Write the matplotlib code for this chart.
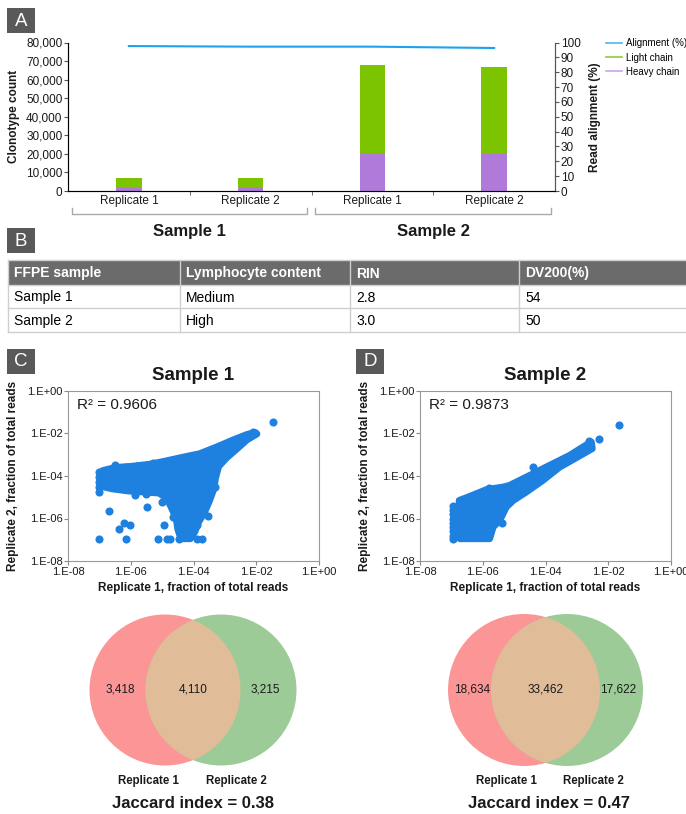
import matplotlib
matplotlib.use("Agg")
import matplotlib.pyplot as plt
import matplotlib.transforms as mtransforms
from matplotlib.patches import Circle, Rectangle
from matplotlib.lines import Line2D
import numpy as np

# ---- data ----
categories = ["Replicate 1", "Replicate 2", "Replicate 1", "Replicate 2"]
samples = ["Sample 1", "Sample 2"]
heavy = [1600, 1600, 20400, 19900]
light = [5500, 5400, 47400, 46700]
alignment = [97.6, 97.2, 97.2, 96.3]

table_cols = ["FFPE sample", "Lymphocyte content", "RIN", "DV200(%)"]
table_rows = [["Sample 1", "Medium", "2.8", "54"],
              ["Sample 2", "High", "3.0", "50"]]

# scatter clouds, log10 of fraction of total reads
s1_core_x = [-6.9, -6.5, -6.0, -5.4, -4.9, -4.44, -3.8, -3.27, -2.73, -2.3, -2.05, -1.98,
             -2.3, -2.6, -2.95, -3.2, -3.3, -3.35, -3.5, -3.65, -3.85, -3.95, -4.1, -4.4,
             -4.5, -4.55, -4.7, -4.85, -5.1, -5.6, -6.1, -6.6, -6.9]
s1_core_y = [-3.75, -3.6, -3.55, -3.45, -3.3, -3.15, -2.95, -2.64, -2.3, -2.05, -1.95, -2.02,
             -2.3, -2.7, -3.15, -3.55, -4.1, -4.6, -5.2, -5.7, -6.2, -6.6, -6.95, -6.95,
             -6.5, -6.0, -5.5, -5.05, -4.8, -4.75, -4.7, -4.6, -4.5]
s1_pts_x = [-1.48, -7.01, -7.01, -7.01, -7.01, -7.01, -7.01, -6.69, -6.72, -6.72,
            -6.51, -6.14, -6.38, -6.22, -6.03, -6.14, -5.47, -5.5, -5.85, -5.13,
            -4.83, -5.0, -4.95, -4.65, -4.67, -4.75, -4.45, -3.9, -3.74, -3.9,
            -3.53, -3.32, -6.3, -5.8, -6.0, -5.3, -2.04, -2.1]
s1_pts_y = [-1.46, -3.81, -4.05, -4.28, -4.52, -4.75, -6.95, -5.65, -4.1, -4.45,
            -3.5, -3.58, -6.48, -6.21, -6.32, -6.95, -5.46, -4.86, -4.9, -6.95,
            -6.95, -5.22, -6.32, -5.93, -5.46, -6.95, -6.95, -6.95, -6.95, -6.32,
            -5.88, -4.52, -3.9, -3.55, -4.5, -3.4, -2.0, -1.93]

s2_core_x = [-6.73, -6.75, -6.46, -5.88, -5.35, -5.14, -4.5, -3.87, -3.23, -2.81, -2.54,
             -2.51, -3.02, -3.55, -4.08, -4.61, -5.03, -5.25, -5.46, -5.67, -5.78]
s2_core_y = [-6.95, -5.15, -4.99, -4.64, -4.52, -4.44, -3.97, -3.5, -3.03, -2.64, -2.4,
             -2.71, -3.14, -3.58, -4.2, -4.75, -5.15, -5.46, -6.09, -6.4, -6.95]
s2_pts_x = [-1.67, -2.3, -2.6, -4.4, -6.94, -6.94, -6.94, -6.94, -6.94, -6.94, -6.94,
            -6.94, -6.94, -6.45, -5.8, -5.4]
s2_pts_y = [-1.62, -2.27, -2.35, -3.58, -5.4, -5.6, -5.8, -6.0, -6.2, -6.4, -6.6,
            -6.8, -6.95, -5.0, -4.55, -6.2]

r2_values = ["0.9606", "0.9873"]
venn_counts = [[3418, 4110, 3215], [18634, 33462, 17622]]
jaccard = [0.38, 0.47]

# ---- style ----
W, H = 686, 814
plt.rcParams['font.family'] = ['Liberation Sans', 'DejaVu Sans']
green = "#7DC400"
purple = "#B07ADA"
blue_line = "#1CA3EC"
dot_blue = "#1E80DF"
txt = "#1a1a1a"

fig = plt.figure(figsize=(W / 100, H / 100), dpi=100)


def px_axes(l, t, r, b):
    return fig.add_axes([l / W, 1 - b / H, (r - l) / W, (b - t) / H])


canvas = fig.add_axes([0, 0, 1, 1])
canvas.set_xlim(0, W)
canvas.set_ylim(H, 0)
canvas.axis("off")


def panel_label(x, y, letter):
    canvas.add_patch(Rectangle((x, y), 28, 25, fc="#595959", ec="none"))
    canvas.text(x + 14, y + 13, letter, color="white", fontsize=13.5,
                ha="center", va="center")


# ---- panel A ----
panel_label(7, 8, "A")
ax = px_axes(68, 42.5, 555, 191)
xpos = np.arange(len(categories))
ax.bar(xpos, heavy, width=0.21, color=purple, zorder=2)
ax.bar(xpos, light, bottom=heavy, width=0.21, color=green, zorder=2)
ax.set_xlim(-0.5, 3.5)
ax.set_ylim(0, 80000)
ax.set_yticks(range(0, 80001, 10000))
ax.set_yticklabels([f"{v:,}" for v in range(0, 80001, 10000)])
ax.set_xticks(xpos)
ax.set_xticklabels(categories)
ax.set_xticks([0.5, 1.5, 2.5], minor=True)
ax.tick_params(axis="x", which="major", length=0, pad=3, labelsize=8.5, labelcolor=txt)
ax.tick_params(axis="x", which="minor", length=3, color="#555555")
ax.tick_params(axis="y", length=3, pad=1, labelsize=8.5, labelcolor=txt, color="#555555")
ax.spines["top"].set_visible(False)
for s in ("left", "bottom", "right"):
    ax.spines[s].set_color("#555555")
ax.set_ylabel("Clonotype count", fontsize=8.5, fontweight="bold", color=txt)
ax.yaxis.set_label_coords((20 - 68) / 487, 0.5)

ax2 = ax.twinx()
ax2.plot(xpos, alignment, color=blue_line, lw=1.5)
ax2.set_ylim(0, 100)
ax2.set_yticks(range(0, 101, 10))
ax2.tick_params(axis="y", length=3, pad=1, labelsize=8.5, labelcolor=txt, color="#555555")
ax2.spines["top"].set_visible(False)
ax2.spines["right"].set_color("#555555")
ax2.set_ylabel("Read alignment (%)", fontsize=8.5, fontweight="bold", color=txt)
ax2.yaxis.set_label_coords((589 - 68) / 487, 0.5)

handles = [Line2D([], [], color="#4DB6F0", lw=1.2),
           Line2D([], [], color="#8CCB3A", lw=1.2),
           Line2D([], [], color="#CFA2E8", lw=1.2)]
fig.legend(handles, ["Alignment (%)", "Light chain", "Heavy chain"],
           loc="upper left", bbox_to_anchor=(606 / W, 1 - 38.5 / H), frameon=False,
           fontsize=7, handlelength=1.6, handletextpad=0.5, labelspacing=0.42,
           borderaxespad=0, borderpad=0)

trans = mtransforms.blended_transform_factory(ax.transData, ax.transAxes)
for (x0, x1), name, xc in zip([(-0.467, 1.467), (1.525, 3.467)], samples, [0.5, 2.5]):
    ax.plot([x0, x0, x1, x1], [-0.115, -0.155, -0.155, -0.115], transform=trans,
            clip_on=False, color="#aaaaaa", lw=1)
    ax.text(xc, -0.27, name, transform=trans, ha="center", va="center",
            fontsize=12, fontweight="bold", color=txt)

# ---- panel B: table ----
panel_label(7, 228, "B")
col_x = [8, 180, 350, 519, W]
row_y = [260, 285, 308, 332]
canvas.add_patch(Rectangle((col_x[0], row_y[0]), W - col_x[0], row_y[1] - row_y[0],
                           fc="#6b6b6b", ec="none"))
for yy in row_y:
    canvas.plot([col_x[0], W], [yy, yy], color="#cfcfcf", lw=1)
for xx in col_x[:-1]:
    canvas.plot([xx, xx], [row_y[0], row_y[-1]], color="#cfcfcf", lw=1)
for j, name in enumerate(table_cols):
    canvas.text(col_x[j] + 6, (row_y[0] + row_y[1]) / 2 + 1, name, color="white",
                fontsize=10, fontweight="bold", va="center", ha="left")
for i, row in enumerate(table_rows):
    for j, val in enumerate(row):
        canvas.text(col_x[j] + 6, (row_y[i + 1] + row_y[i + 2]) / 2 + 1, val, color="black",
                    fontsize=10, va="center", ha="left")

# ---- panels C / D: scatter ----
decade_ticks = [1e-8, 1e-6, 1e-4, 1e-2, 1]
decade_labels = ["1.E-08", "1.E-06", "1.E-04", "1.E-02", "1.E+00"]


def draw_scatter(box, core_x, core_y, pts_x, pts_y, title, r2):
    a = px_axes(*box)
    a.set_xscale("log")
    a.set_yscale("log")
    a.fill(10.0 ** np.array(core_x), 10.0 ** np.array(core_y), fc=dot_blue, ec=dot_blue,
           lw=5, joinstyle="round", zorder=2)
    a.scatter(10.0 ** np.array(pts_x), 10.0 ** np.array(pts_y), s=34, color=dot_blue,
              linewidths=0, zorder=3)
    a.set_xlim(1e-8, 1)
    a.set_ylim(1e-8, 1)
    a.set_xticks(decade_ticks)
    a.set_xticklabels(decade_labels)
    a.set_yticks(decade_ticks)
    a.set_yticklabels(decade_labels)
    a.minorticks_off()
    a.tick_params(length=3, pad=1, labelsize=8, labelcolor=txt, color="#888888")
    for s in a.spines.values():
        s.set_color("#999999")
    a.set_xlabel("Replicate 1, fraction of total reads", fontsize=8.5,
                 fontweight="bold", color=txt)
    a.xaxis.set_label_coords(0.5, -0.124)
    a.set_ylabel("Replicate 2, fraction of total reads", fontsize=8.5,
                 fontweight="bold", color=txt)
    a.yaxis.set_label_coords(-0.195, 0.5)
    a.text(0.5, 1.094, title, transform=a.transAxes, ha="center", va="center",
           fontsize=13.5, fontweight="bold", color=txt)
    a.text(0.036, 0.918, "R\u00b2 = " + r2, transform=a.transAxes, ha="left",
           va="center", fontsize=11, color=txt)
    return a


panel_label(7, 349, "C")
panel_label(356, 349, "D")
draw_scatter((68, 391, 319, 561), s1_core_x, s1_core_y, s1_pts_x, s1_pts_y,
             samples[0], r2_values[0])
draw_scatter((420, 391, 671, 561), s2_core_x, s2_core_y, s2_pts_x, s2_pts_y,
             samples[1], r2_values[1])

# ---- Venn diagrams ----
venn_red = "#FC9696"
venn_green = "#9CCB98"
venn_mix = "#E0BD98"


def draw_venn(cx1, cx2, cy, r, counts, jac, label_x, jac_x):
    c1 = Circle((cx1, cy), r, fc=venn_red, ec="none")
    c2 = Circle((cx2, cy), r, fc=venn_green, ec="none")
    canvas.add_patch(c1)
    canvas.add_patch(c2)
    lens = Circle((cx1, cy), r, fc=venn_mix, ec="none")
    canvas.add_patch(lens)
    lens.set_clip_path(c2)
    mid = (cx1 + cx2) / 2
    xs = [mid - r + 3, mid, mid + r - 3]
    for xx, v in zip(xs, counts):
        canvas.text(xx, cy, f"{v:,}", ha="center", va="center", fontsize=8.5, color=txt)
    for xx, name in zip(label_x, ["Replicate 1", "Replicate 2"]):
        canvas.text(xx, 781, name, ha="center", va="center", fontsize=8.3,
                    fontweight="bold", color=txt)
    canvas.text(jac_x, 804, f"Jaccard index = {jac:.2f}", ha="center", va="center",
                fontsize=12, fontweight="bold", color=txt)


draw_venn(165, 221, 690, 75.5, venn_counts[0], jaccard[0], (149, 236), 193)
draw_venn(524, 567, 690, 76, venn_counts[1], jaccard[1], (507, 593), 549)

fig.savefig("out.png", dpi=100)
